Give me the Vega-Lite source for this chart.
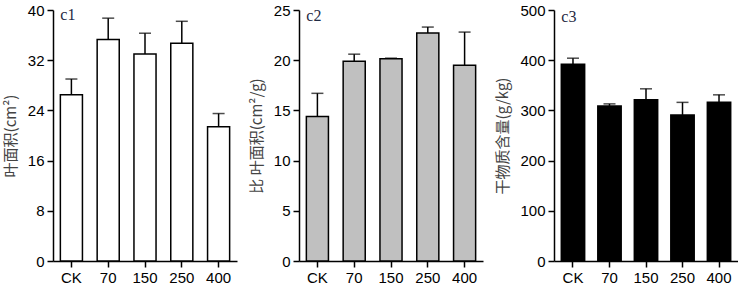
{
  "$schema": "https://vega.github.io/schema/vega-lite/v6.json",
  "padding": {"left": 3, "top": 3, "right": 0, "bottom": 0},
  "spacing": 12,
  "config": {
    "view": {"stroke": null},
    "axis": {
      "domainColor": "black", "domainWidth": 1.5, "tickColor": "black", "tickWidth": 1.5, "tickSize": 6,
      "labelFont": "Liberation Sans", "labelFontSize": 15, "labelColor": "black", "labelPadding": 3,
      "titleFont": "Noto Sans CJK SC", "titleFontSize": 15, "titleFontWeight": "normal", "titleColor": "#444444",
      "grid": false
    },
    "axisY": {"titlePadding": 9}
  },
  "datasets": {
    "p1": [
      {"group": "CK", "value": 26.5, "upper": 29.0},
      {"group": "70", "value": 35.3, "upper": 38.7},
      {"group": "150", "value": 33.0, "upper": 36.3},
      {"group": "250", "value": 34.7, "upper": 38.2},
      {"group": "400", "value": 21.4, "upper": 23.5}
    ],
    "p2": [
      {"group": "CK", "value": 14.4, "upper": 16.7},
      {"group": "70", "value": 19.9, "upper": 20.6},
      {"group": "150", "value": 20.15, "upper": 20.2},
      {"group": "250", "value": 22.7, "upper": 23.3},
      {"group": "400", "value": 19.5, "upper": 22.8}
    ],
    "p3": [
      {"group": "CK", "value": 392, "upper": 404},
      {"group": "70", "value": 309, "upper": 313},
      {"group": "150", "value": 321, "upper": 343},
      {"group": "250", "value": 291, "upper": 316},
      {"group": "400", "value": 316, "upper": 331}
    ]
  },
  "hconcat": [
    {
      "width": 184, "height": 251,
      "data": {"name": "p1"},
      "layer": [
        {"mark": {"type": "bar", "fill": "white", "stroke": "black", "strokeWidth": 1.5},
         "encoding": {
           "x": {"field": "group", "type": "nominal", "title": null, "scale": {"domain": ["CK","70","150","250","400"], "paddingInner": 0.4, "paddingOuter": 0.2}, "axis": {"labelAngle": 0}},
           "y": {"field": "value", "type": "quantitative", "title": "叶面积(cm²)", "scale": {"domain": [0, 40], "nice": false}, "axis": {"values": [0, 8, 16, 24, 32, 40]}}}},
        {"mark": {"type": "rule", "color": "black", "strokeWidth": 1.5},
         "encoding": {
           "x": {"field": "group", "type": "nominal", "title": null},
           "y": {"field": "value", "type": "quantitative", "title": "叶面积(cm²)"},
           "y2": {"field": "upper"}}},
        {"mark": {"type": "tick", "orient": "horizontal", "size": 12, "thickness": 1.5, "color": "black"},
         "encoding": {
           "x": {"field": "group", "type": "nominal", "title": null},
           "y": {"field": "upper", "type": "quantitative", "title": "叶面积(cm²)"}}},
        {"data": {"values": [{"label": "c1"}]},
         "mark": {"type": "text", "align": "left", "baseline": "middle", "font": "Liberation Serif", "fontSize": 16, "color": "#1f2a44"},
         "encoding": {
           "x": {"datum": "CK", "type": "nominal", "bandPosition": 0, "title": null},
           "y": {"datum": 39.2, "type": "quantitative", "title": "叶面积(cm²)"},
           "text": {"field": "label"}}}
      ]
    },
    {
      "width": 184, "height": 251,
      "data": {"name": "p2"},
      "layer": [
        {"mark": {"type": "bar", "fill": "#c0c0c0", "stroke": "black", "strokeWidth": 1.5},
         "encoding": {
           "x": {"field": "group", "type": "nominal", "title": null, "scale": {"domain": ["CK","70","150","250","400"], "paddingInner": 0.4, "paddingOuter": 0.2}, "axis": {"labelAngle": 0}},
           "y": {"field": "value", "type": "quantitative", "title": "比 叶面积(cm²/g)", "scale": {"domain": [0, 25], "nice": false}, "axis": {"values": [0, 5, 10, 15, 20, 25]}}}},
        {"mark": {"type": "rule", "color": "black", "strokeWidth": 1.5},
         "encoding": {
           "x": {"field": "group", "type": "nominal", "title": null},
           "y": {"field": "value", "type": "quantitative", "title": "比 叶面积(cm²/g)"},
           "y2": {"field": "upper"}}},
        {"mark": {"type": "tick", "orient": "horizontal", "size": 12, "thickness": 1.5, "color": "black"},
         "encoding": {
           "x": {"field": "group", "type": "nominal", "title": null},
           "y": {"field": "upper", "type": "quantitative", "title": "比 叶面积(cm²/g)"}}},
        {"data": {"values": [{"label": "c2"}]},
         "mark": {"type": "text", "align": "left", "baseline": "middle", "font": "Liberation Serif", "fontSize": 16, "color": "#1f2a44"},
         "encoding": {
           "x": {"datum": "CK", "type": "nominal", "bandPosition": 0, "title": null},
           "y": {"datum": 24.4, "type": "quantitative", "title": "比 叶面积(cm²/g)"},
           "text": {"field": "label"}}}
      ]
    },
    {
      "width": 184, "height": 251,
      "data": {"name": "p3"},
      "layer": [
        {"mark": {"type": "bar", "fill": "black", "stroke": "black", "strokeWidth": 1.5},
         "encoding": {
           "x": {"field": "group", "type": "nominal", "title": null, "scale": {"domain": ["CK","70","150","250","400"], "paddingInner": 0.36, "paddingOuter": 0.2}, "axis": {"labelAngle": 0}},
           "y": {"field": "value", "type": "quantitative", "title": "干物质含量(g/kg)", "scale": {"domain": [0, 500], "nice": false}, "axis": {"values": [0, 100, 200, 300, 400, 500]}}}},
        {"mark": {"type": "rule", "color": "black", "strokeWidth": 1.5},
         "encoding": {
           "x": {"field": "group", "type": "nominal", "title": null},
           "y": {"field": "value", "type": "quantitative", "title": "干物质含量(g/kg)"},
           "y2": {"field": "upper"}}},
        {"mark": {"type": "tick", "orient": "horizontal", "size": 12, "thickness": 1.5, "color": "black"},
         "encoding": {
           "x": {"field": "group", "type": "nominal", "title": null},
           "y": {"field": "upper", "type": "quantitative", "title": "干物质含量(g/kg)"}}},
        {"data": {"values": [{"label": "c3"}]},
         "mark": {"type": "text", "align": "left", "baseline": "middle", "font": "Liberation Serif", "fontSize": 16, "color": "#1f2a44"},
         "encoding": {
           "x": {"datum": "CK", "type": "nominal", "bandPosition": 0, "title": null},
           "y": {"datum": 487, "type": "quantitative", "title": "干物质含量(g/kg)"},
           "text": {"field": "label"}}}
      ]
    }
  ]
}
